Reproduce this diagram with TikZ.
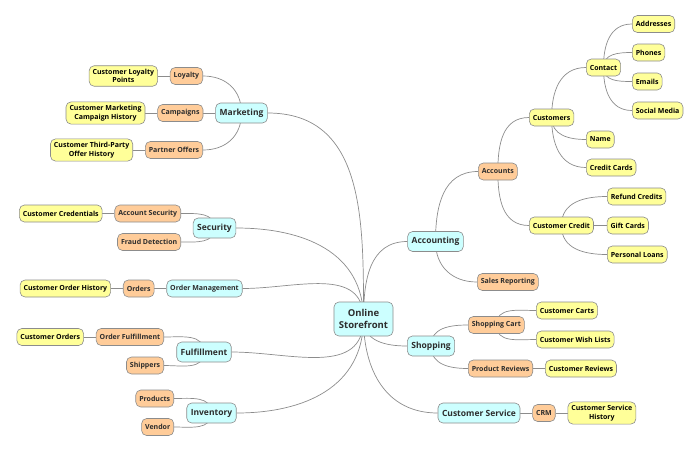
\documentclass[tikz,border=0pt]{standalone}
\usepackage{fontspec}
\setmainfont{Open Sans}
\usetikzlibrary{positioning, backgrounds}
\definecolor{topic}{RGB}{204,255,255}
\definecolor{subtopic}{RGB}{255,204,153}
\definecolor{leaf}{RGB}{255,255,153}
\definecolor{frame}{RGB}{140,140,140}
\definecolor{ink}{RGB}{45,45,45}
\tikzset{
  root/.style={rectangle, rounded corners=5pt, draw=frame, fill=topic,
    align=center, text=ink, font=\fontsize{9.5}{12.5}\selectfont\bfseries,
    minimum height=34pt, inner xsep=5pt, line width=0.6pt},
  topicbox/.style={rectangle, rounded corners=5pt, draw=frame, fill=topic,
    text=ink, font=\fontsize{8.5}{10}\selectfont\bfseries,
    minimum height=20pt, inner xsep=4pt, line width=0.6pt},
  smalltopic/.style={topicbox, font=\fontsize{7}{8}\selectfont\bfseries,
    minimum height=17pt, inner xsep=3.5pt},
  subbox/.style={rectangle, rounded corners=5pt, draw=frame, fill=subtopic,
    text=ink, font=\fontsize{7}{8}\selectfont\bfseries,
    minimum height=17pt, inner xsep=3.5pt, line width=0.6pt},
  leafbox/.style={rectangle, rounded corners=5pt, draw=frame, fill=leaf,
    text=black, align=center, font=\fontsize{7}{8.5}\selectfont\bfseries,
    minimum height=17pt, inner xsep=3.5pt, line width=0.6pt},
  branch/.style={draw=frame, line width=0.7pt, looseness=1.1},
}
\begin{document}
\begin{tikzpicture}[x=1pt, y=1pt]
  \useasboundingbox (0,0) rectangle (700,-453);

  \node[root] (root) at (363.5,-319) {Online\\Storefront};

  % left side
  \node[topicbox] (marketing) at (241.5,-113) {Marketing};
  \node[subbox, anchor=east] (loyalty) at (203,-76) {Loyalty};
  \node[subbox, left=12pt of marketing] (campaigns) {Campaigns};
  \node[subbox, anchor=east] (partner) at (203,-150) {Partner Offers};
  \node[leafbox, left=12pt of loyalty] (loyaltypts) {Customer Loyalty\\Points};
  \node[leafbox, left=12pt of campaigns] (campaignhist) {Customer Marketing\\Campaign History};
  \node[leafbox, left=12pt of partner] (offerhist) {Customer Third-Party\\Offer History};

  \node[topicbox] (security) at (214.5,-228) {Security};
  \node[subbox, anchor=east] (acctsec) at (181,-213.5) {Account Security};
  \node[subbox, anchor=east] (fraud) at (181,-242) {Fraud Detection};
  \node[leafbox, left=12pt of acctsec] (creds) {Customer Credentials};

  \node[smalltopic] (ordermgmt) at (204.5,-288.5) {Order Management};
  \node[subbox, left=12pt of ordermgmt] (orders) {Orders};
  \node[leafbox, left=12pt of orders] (orderhist) {Customer Order History};

  \node[topicbox] (fulfillment) at (204,-352) {Fulfillment};
  \node[subbox, anchor=east] (orderful) at (164,-337) {Order Fulfillment};
  \node[subbox, anchor=east] (shippers) at (164,-365.5) {Shippers};
  \node[leafbox, left=12pt of orderful] (custorders) {Customer Orders};

  \node[topicbox] (inventory) at (211.5,-413) {Inventory};
  \node[subbox, anchor=east] (products) at (174,-398.5) {Products};
  \node[subbox, anchor=east] (vendor) at (174,-427) {Vendor};

  % right side
  \node[topicbox] (accounting) at (435.5,-241.5) {Accounting};
  \node[subbox, anchor=west] (accounts) at (478,-171.5) {Accounts};
  \node[subbox, anchor=west] (sales) at (477,-282) {Sales Reporting};
  \node[leafbox, anchor=west] (customers) at (529,-117.5) {Customers};
  \node[leafbox, anchor=west] (contact) at (586,-67.5) {Contact};
  \node[leafbox, anchor=west] (addresses) at (632,-24) {Addresses};
  \node[leafbox, anchor=west] (phones) at (632,-52.5) {Phones};
  \node[leafbox, anchor=west] (emails) at (632,-81.5) {Emails};
  \node[leafbox, anchor=west] (social) at (632,-110.5) {Social Media};
  \node[leafbox, anchor=west] (name) at (586,-139.5) {Name};
  \node[leafbox, anchor=west] (cards) at (586,-167.5) {Credit Cards};
  \node[leafbox, anchor=west] (custcredit) at (529,-225.5) {Customer Credit};
  \node[leafbox, anchor=west] (refund) at (607,-196.5) {Refund Credits};
  \node[leafbox, right=13pt of custcredit] (gift) {Gift Cards};
  \node[leafbox, anchor=west] (loans) at (607,-254.5) {Personal Loans};

  \node[topicbox] (shopping) at (431,-346) {Shopping};
  \node[subbox, anchor=west] (cart) at (468,-325) {Shopping Cart};
  \node[leafbox, anchor=west] (carts) at (536,-310.5) {Customer Carts};
  \node[leafbox, anchor=west] (wish) at (536,-339.5) {Customer Wish Lists};
  \node[subbox, anchor=west] (reviews) at (468,-368.5) {Product Reviews};
  \node[leafbox, right=12pt of reviews] (custreviews) {Customer Reviews};

  \node[topicbox] (custservice) at (479,-413) {Customer Service};
  \node[subbox, right=12pt of custservice] (crm) {CRM};
  \node[leafbox, right=12pt of crm] (cshist) {Customer Service\\History};

  \begin{scope}[on background layer]
    % left, child above / below
    \foreach \p/\c in {root/marketing, root/security, root/ordermgmt, marketing/loyalty,
                       security/acctsec, fulfillment/orderful, inventory/products}
      \draw[branch] (\p.center) to[out=90, in=0] (\c.east);
    \foreach \p/\c in {root/fulfillment, root/inventory, marketing/partner, security/fraud,
                       fulfillment/shippers, inventory/vendor}
      \draw[branch] (\p.center) to[out=-90, in=0] (\c.east);
    % right, child above / below
    \foreach \p/\c in {root/accounting, accounting/accounts, accounts/customers,
                       customers/contact, contact/addresses, contact/phones,
                       custcredit/refund, shopping/cart, cart/carts}
      \draw[branch] (\p.center) to[out=90, in=180] (\c.west);
    \foreach \p/\c in {root/shopping, root/custservice, accounting/sales, accounts/custcredit,
                       customers/name, customers/cards, contact/emails, contact/social,
                       custcredit/loans, shopping/reviews, cart/wish}
      \draw[branch] (\p.center) to[out=-90, in=180] (\c.west);
    % straight links
    \foreach \a/\b in {loyalty/loyaltypts, marketing/campaigns, campaigns/campaignhist,
                       partner/offerhist, acctsec/creds, ordermgmt/orders, orders/orderhist,
                       orderful/custorders}
      \draw[branch] (\a.west) -- (\b.east);
    \foreach \a/\b in {custcredit/gift, reviews/custreviews, custservice/crm, crm/cshist}
      \draw[branch] (\a.east) -- (\b.west);
  \end{scope}
\end{tikzpicture}
\end{document}
